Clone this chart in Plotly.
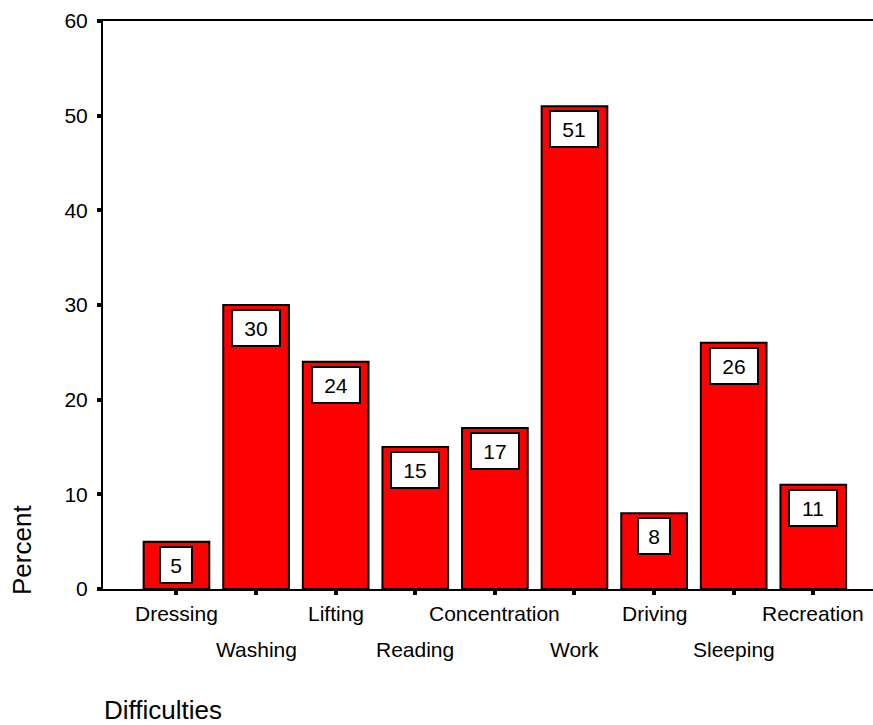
import plotly.graph_objects as go

# Share of respondents reporting each difficulty (percent)
categories = ["Dressing", "Washing", "Lifting", "Reading", "Concentration",
              "Work", "Driving", "Sleeping", "Recreation"]
percent = [5, 30, 24, 15, 17, 51, 8, 26, 11]
y_ticks = [0, 10, 20, 30, 40, 50, 60]

FONT = "Arial, Liberation Sans, sans-serif"
W, H = 873, 725
M_L, M_R, M_T, M_B = 103, 0, 21, 136
PLOT_W = W - M_L - M_R
PLOT_H = H - M_T - M_B

x_idx = list(range(len(categories)))

fig = go.Figure()
fig.add_trace(go.Bar(
    x=x_idx,
    y=percent,
    width=0.825,
    marker=dict(color="#ff0000", line=dict(color="black", width=2)),
    hoverinfo="skip",
))

annotations = []
# value labels in white boxes just inside each bar top
for i, v in enumerate(percent):
    txt = str(v)
    annotations.append(dict(
        x=i, y=v, xref="x", yref="y",
        text=txt, showarrow=False,
        xanchor="center", yanchor="top", yshift=-4,
        font=dict(family=FONT, size=21, color="black"),
        bgcolor="white", bordercolor="black", borderwidth=2, borderpad=1,
        width=44 if len(txt) > 1 else 28, height=32,
        valign="middle",
    ))

# staggered category labels below the axis
for i, c in enumerate(categories):
    annotations.append(dict(
        x=i, y=0, xref="x", yref="paper",
        text=c, showarrow=False,
        xanchor="center", yanchor="middle",
        yshift=-24 if i % 2 == 0 else -60,
        font=dict(family=FONT, size=21, color="black"),
    ))

# axis titles
annotations.append(dict(
    x=(102 - M_L) / PLOT_W, y=0, xref="paper", yref="paper",
    text="Difficulties", showarrow=False,
    xanchor="left", yanchor="middle", yshift=-(710 - (H - M_B)),
    font=dict(family=FONT, size=26, color="black"),
))
annotations.append(dict(
    x=(22 - M_L) / PLOT_W, y=((H - M_B) - 550) / PLOT_H, xref="paper", yref="paper",
    text="Percent", showarrow=False, textangle=-90,
    xanchor="center", yanchor="middle",
    font=dict(family=FONT, size=26, color="black"),
))

fig.update_layout(
    width=W, height=H,
    margin=dict(l=M_L, r=M_R, t=M_T, b=M_B, pad=0),
    paper_bgcolor="white", plot_bgcolor="white",
    showlegend=False,
    annotations=annotations,
    font=dict(family=FONT, color="black"),
)
fig.update_xaxes(
    range=[-0.923, 8.75],
    tickvals=x_idx, showticklabels=False,
    ticks="outside", ticklen=4, tickwidth=4, tickcolor="black",
    showline=True, linecolor="black", linewidth=2, mirror=True,
    showgrid=False, zeroline=False, fixedrange=True,
)
fig.update_yaxes(
    range=[0, 60],
    tickvals=y_ticks,
    ticks="outside", ticklen=4, tickwidth=4, tickcolor="black",
    tickfont=dict(family=FONT, size=21, color="black"),
    ticklabelstandoff=5,
    showline=True, linecolor="black", linewidth=2,
    showgrid=False, zeroline=False, fixedrange=True,
)

fig.write_html("out.html", config={"displayModeBar": False})
